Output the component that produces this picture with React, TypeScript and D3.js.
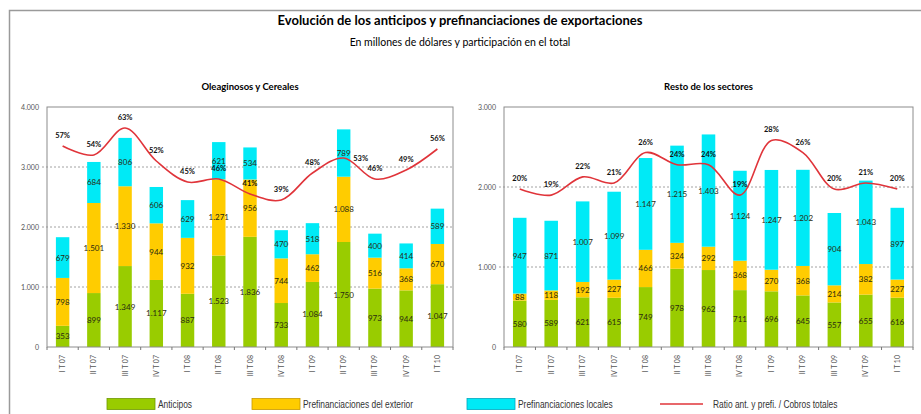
import React, { useEffect, useRef } from "react";
import * as d3 from "d3";

// Trimestres
const quarters = [
  "I T 07", "II T 07", "III T 07", "IV T 07",
  "I T 08", "II T 08", "III T 08", "IV T 08",
  "I T 09", "II T 09", "III T 09", "IV T 09", "I T 10",
];

// Oleaginosos y Cereales
const oleAnticipos = [353, 899, 1349, 1117, 887, 1523, 1836, 733, 1084, 1750, 973, 944, 1047];
const oleExterior = [798, 1501, 1330, 944, 932, 1271, 956, 744, 462, 1088, 516, 368, 670];
const oleLocales = [679, 684, 806, 606, 629, 621, 534, 470, 518, 789, 400, 414, 589];
const oleRatio = [57, 54, 63, 52, 45, 46, 41, 39, 48, 53, 46, 49, 56];
const oleTicks = [0, 1000, 2000, 3000, 4000];

// Resto de los sectores
const restoAnticipos = [580, 589, 621, 615, 749, 978, 962, 711, 696, 645, 557, 655, 616];
const restoExterior = [88, 118, 192, 227, 466, 324, 292, 368, 270, 368, 214, 382, 227];
const restoLocales = [947, 871, 1007, 1099, 1147, 1215, 1403, 1124, 1247, 1202, 904, 1043, 897];
const restoRatio = [20, 19, 22, 21, 26, 24, 24, 19, 28, 26, 20, 21, 20];
const restoTicks = [0, 1000, 2000, 3000];

const seriesNames = ["Anticipos", "Prefinanciaciones del exterior", "Prefinanciaciones locales"];
const lineName = "Ratio  ant. y prefi. / Cobros totales";

const COLORS = ["#99cc00", "#ffcc00", "#00eaf6"];
const BORDERS = ["#6f9a00", "#c99a00", "#00a8c0"];
const LINE_COLOR = "#e0343a";

const esLocale = d3.formatLocale({ decimal: ",", thousands: ".", grouping: [3], currency: ["$", ""] });
const fmt = esLocale.format(",d");

const FONT = "Lato, 'Open Sans', sans-serif";
const NARROW = "'Liberation Sans', Arial, sans-serif";

function drawPanel(svg, o) {
  const { x0, x1, yTop, yBottom, title, anticipos, exterior, locales, ratio, ticks, ratioDomain } = o;

  const rows = quarters.map((q, i) => ({ q, a: anticipos[i], e: exterior[i], l: locales[i], r: ratio[i] }));
  const stack = d3.stack().keys(["a", "e", "l"])(rows);

  const x = d3.scaleBand().domain(quarters).range([x0, x1]).paddingInner(0.57).paddingOuter(0.285);
  const y = d3.scaleLinear().domain([0, d3.max(ticks)]).range([yBottom, yTop]);
  const yr = d3.scaleLinear().domain(ratioDomain).range([yBottom, yTop]);
  const cx = q => x(q) + x.bandwidth() / 2;

  const g = svg.append("g");

  // titulo del panel
  g.append("text")
    .attr("x", (x0 + x1) / 2)
    .attr("y", 90)
    .attr("text-anchor", "middle")
    .style("font-family", FONT)
    .style("font-weight", "bold")
    .style("font-size", "9.5px")
    .text(title);

  // grilla
  g.selectAll(".grid")
    .data(ticks.filter(t => t > 0 && t < d3.max(ticks)))
    .join("line")
    .attr("x1", x0 - 5)
    .attr("x2", x1)
    .attr("y1", d => y(d))
    .attr("y2", d => y(d))
    .attr("stroke", "#8a8a8a")
    .attr("stroke-width", 0.8)
    .attr("stroke-dasharray", "2,2");

  // eje y
  g.selectAll(".ytick")
    .data(ticks)
    .join("text")
    .attr("x", x0 - 8)
    .attr("y", d => y(d) + 2.5)
    .attr("text-anchor", "end")
    .style("font-family", FONT)
    .style("font-size", "7px")
    .style("fill", "#555")
    .text(d => fmt(d));

  // barras apiladas
  const segLabelY = rows.map(() => []);
  stack.forEach((layer, li) => {
    g.selectAll(`.bar-${li}`)
      .data(layer)
      .join("rect")
      .attr("x", d => x(d.data.q))
      .attr("width", x.bandwidth())
      .attr("y", d => y(d[1]))
      .attr("height", d => y(d[0]) - y(d[1]))
      .attr("fill", COLORS[li]);

    layer.forEach((d, i) => segLabelY[i].push((y(d[0]) + y(d[1])) / 2 + 3));

    g.selectAll(`.lbl-${li}`)
      .data(layer)
      .join("text")
      .attr("x", d => cx(d.data.q))
      .attr("y", d => (y(d[0]) + y(d[1])) / 2 + 3)
      .attr("text-anchor", "middle")
      .style("font-family", FONT)
      .style("font-size", "8px")
      .style("fill", "#2a2a10")
      .text(d => fmt(d[1] - d[0]));
  });

  // marco del area
  g.append("rect")
    .attr("x", x0)
    .attr("y", yTop)
    .attr("width", x1 - x0)
    .attr("height", yBottom - yTop)
    .attr("fill", "none")
    .attr("stroke", "#8c8c8c")
    .attr("stroke-width", 1);

  // marcas del eje x
  const step = x.step();
  g.selectAll(".xtick")
    .data(d3.range(quarters.length + 1))
    .join("line")
    .attr("x1", i => x0 + i * step)
    .attr("x2", i => x0 + i * step)
    .attr("y1", yBottom)
    .attr("y2", yBottom + 3)
    .attr("stroke", "#777");

  g.selectAll(".xlbl")
    .data(quarters)
    .join("text")
    .attr("transform", d => `translate(${cx(d) + 2.5},${yBottom + 8}) rotate(-90)`)
    .attr("text-anchor", "end")
    .style("font-family", FONT)
    .style("font-size", "7px")
    .style("fill", "#555")
    .text(d => d);

  // linea de ratio
  const line = d3.line()
    .x(d => cx(d.q))
    .y(d => yr(d.r))
    .curve(d3.curveCatmullRom.alpha(0.5));

  g.append("path")
    .datum(rows)
    .attr("fill", "none")
    .attr("stroke", LINE_COLOR)
    .attr("stroke-width", 1.6)
    .attr("d", line);

  // si el porcentaje choca con un rotulo de barra, va a la derecha del punto
  const clash = (d, i) => segLabelY[i].some(ly => Math.abs(ly - (yr(d.r) - 8)) < 6.5);

  g.selectAll(".pct")
    .data(rows)
    .join("text")
    .attr("x", (d, i) => cx(d.q) + (clash(d, i) ? 17 : 0))
    .attr("y", (d, i) => yr(d.r) + (clash(d, i) ? 3 : -8))
    .attr("text-anchor", "middle")
    .style("font-family", FONT)
    .style("font-weight", "bold")
    .style("font-size", "7.5px")
    .style("fill", "#111")
    .text(d => `${d.r}%`);
}

const App = () => {
  const svgRef = useRef();

  useEffect(() => {
    const svg = d3.select(svgRef.current);
    svg.selectAll("*").remove();

    const width = 921;
    const height = 414;

    svg.append("rect").attr("width", width).attr("height", height).attr("fill", "#fff");

    // marco exterior
    svg.append("path")
      .attr("d", `M9.5,${height} L9.5,10.5 L${width},10.5`)
      .attr("fill", "none")
      .attr("stroke", "#9a9a9a")
      .attr("stroke-width", 1.5);

    svg.append("text")
      .attr("x", 460)
      .attr("y", 25)
      .attr("text-anchor", "middle")
      .style("font-family", FONT)
      .style("font-weight", "bold")
      .style("font-size", "13px")
      .text("Evolución de los anticipos y prefinanciaciones de exportaciones");

    svg.append("text")
      .attr("x", 460)
      .attr("y", 46)
      .attr("text-anchor", "middle")
      .style("font-family", FONT)
      .style("font-size", "10.5px")
      .text("En millones de dólares y participación en el total");

    drawPanel(svg, {
      x0: 47, x1: 453, yTop: 107, yBottom: 347,
      title: "Oleaginosos y Cereales",
      anticipos: oleAnticipos, exterior: oleExterior, locales: oleLocales, ratio: oleRatio,
      ticks: oleTicks, ratioDomain: [-10, 70],
    });

    drawPanel(svg, {
      x0: 504, x1: 913, yTop: 107, yBottom: 347,
      title: "Resto de los sectores",
      anticipos: restoAnticipos, exterior: restoExterior, locales: restoLocales, ratio: restoRatio,
      ticks: restoTicks, ratioDomain: [-6, 33.5],
    });

    // leyenda (texto angosto, como Arial Narrow)
    const legendBoxes = [107, 252, 467];
    const lg = svg.append("g");
    const legendText = (xPos, label) =>
      lg.append("text")
        .attr("transform", `translate(${xPos},407.5) scale(0.84,1)`)
        .style("font-family", NARROW)
        .style("font-size", "10px")
        .style("fill", "#333")
        .text(label);

    seriesNames.forEach((name, i) => {
      lg.append("rect")
        .attr("x", legendBoxes[i])
        .attr("y", 398.5)
        .attr("width", 48)
        .attr("height", 11)
        .attr("fill", COLORS[i])
        .attr("stroke", BORDERS[i])
        .attr("stroke-width", 0.8);
      legendText(legendBoxes[i] + 51, name);
    });
    lg.append("line")
      .attr("x1", 660).attr("x2", 703)
      .attr("y1", 404).attr("y2", 404)
      .attr("stroke", LINE_COLOR)
      .attr("stroke-width", 1.6);
    legendText(713, lineName);
  }, []);

  return (
    <svg
      ref={svgRef}
      width={921}
      height={414}
      style={{ position: "absolute", left: 0, top: 0, display: "block" }}
    />
  );
};

export default App;
